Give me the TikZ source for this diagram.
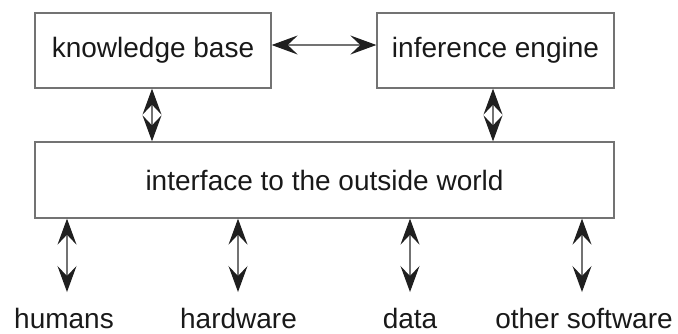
\documentclass[tikz,border=0pt]{standalone}
\usepackage{fontspec}
\setmainfont{Liberation Sans}
\usetikzlibrary{arrows.meta}
\begin{document}
\begin{tikzpicture}[x=0.5pt,y=-0.5pt,
  box/.style={draw=black!55,line width=0.65pt,inner sep=0pt,text=black!90,font=\fontsize{14pt}{17pt}\selectfont},
  lbl/.style={anchor=base,inner sep=0pt,text=black!90,font=\fontsize{14pt}{17pt}\selectfont},
  arr/.style={draw=black!55,line width=0.6pt,{Stealth[length=13pt,width=9.5pt,inset=5pt,color=black!88]}-{Stealth[length=13pt,width=9.5pt,inset=5pt,color=black!88]}}]
\useasboundingbox (0,0) rectangle (678,333);
\node[box,minimum width=118pt,minimum height=37.5pt] (kb) at (153,50.5) {knowledge base};
\node[box,minimum width=118.5pt,minimum height=37.5pt] (ie) at (495.5,50.5) {inference engine};
\node[box,minimum width=289.5pt,minimum height=38pt] (iface) at (324.5,180) {interface to the outside world};
\draw[arr] ([yshift=2.75pt]kb.east) -- ([yshift=2.75pt]ie.west);
\draw[arr] ([xshift=-0.5pt]kb.south) -- ([xshift=-0.5pt]kb.south |- iface.north);
\draw[arr] ([xshift=-1.25pt]ie.south) -- ([xshift=-1.25pt]ie.south |- iface.north);
\node[lbl] (hu) at (64,328) {humans};
\node[lbl] (hw) at (238.5,328) {hardware};
\node[lbl] (da) at (410,328) {data};
\node[lbl] (os) at (584,328) {other software};
\coordinate (ch) at (67,292);
\coordinate (cw) at (238,292);
\coordinate (cd) at (410,292);
\coordinate (co) at (582,292);
\draw[arr] (iface.south -| ch) -- (ch);
\draw[arr] (iface.south -| cw) -- (cw);
\draw[arr] (iface.south -| cd) -- (cd);
\draw[arr] (iface.south -| co) -- (co);
\end{tikzpicture}
\end{document}
